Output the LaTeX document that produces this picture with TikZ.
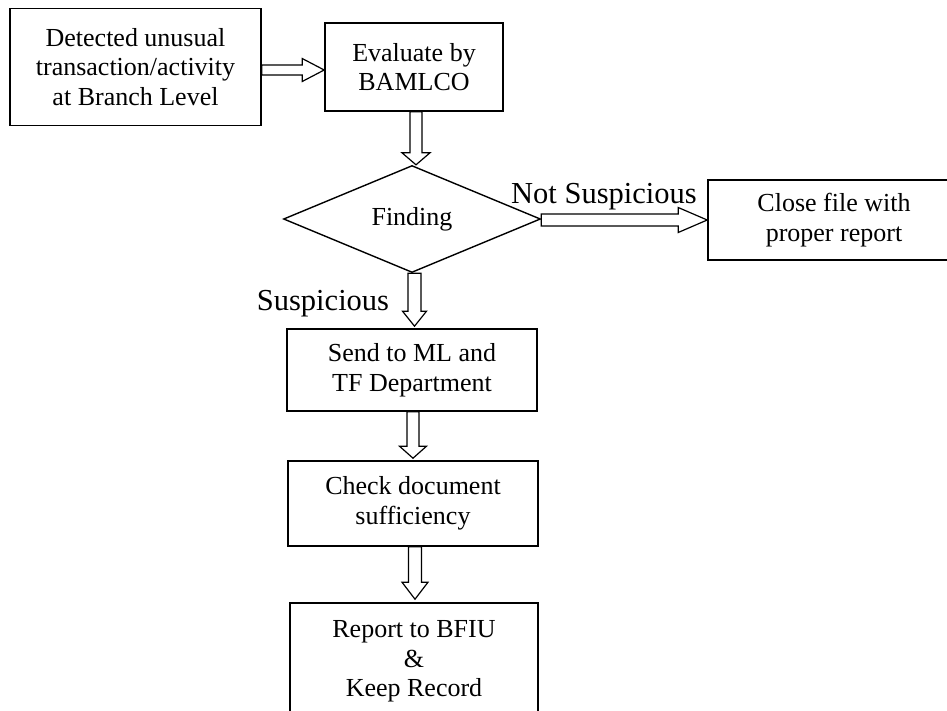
\documentclass[tikz,border=0pt]{standalone}
\usepackage{fontspec}
\setmainfont{Liberation Serif}
\usetikzlibrary{shapes.geometric,calc}

% Hollow block arrow pointing down: #1 start, #2 tip, #3 shaft half-width,
% #4 head half-width, #5 head length
\newcommand\vblockarrow[5]{%
  \draw[blockarrow] let \p1=(#1), \p2=(#2) in
    (\x1-#3,\y1) -- (\x1-#3,\y2+#5) -- (\x1-#4,\y2+#5) -- (\x1,\y2)
    -- (\x1+#4,\y2+#5) -- (\x1+#3,\y2+#5) -- (\x1+#3,\y1) -- cycle;}
% Hollow block arrow pointing right, same parameters
\newcommand\hblockarrow[5]{%
  \draw[blockarrow] let \p1=(#1), \p2=(#2) in
    (\x1,\y1+#3) -- (\x2-#5,\y1+#3) -- (\x2-#5,\y1+#4) -- (\x2,\y1)
    -- (\x2-#5,\y1-#4) -- (\x2-#5,\y1-#3) -- (\x1,\y1-#3) -- cycle;}

\begin{document}
\begin{tikzpicture}[x=1pt,y=-1pt,
  stepbox/.style={draw, line width=1.6pt, align=center, inner sep=0pt,
    font=\fontsize{26}{29.5}\selectfont},
  decision/.style={draw, diamond, aspect=2.4, line width=1.4pt, inner sep=0pt,
    minimum width=257pt, minimum height=107pt,
    font=\fontsize{26}{29.5}\selectfont},
  branchlabel/.style={anchor=base, inner sep=0pt,
    font=\fontsize{30.5}{34}\selectfont},
  blockarrow/.style={draw, line width=1.2pt, fill=white, line join=miter}]
\useasboundingbox (0,0) rectangle (947,710);
\clip (0,0) rectangle (947,710);

% process steps
\node[stepbox, minimum width=251pt, minimum height=117pt] (detect) at (135.5,67)
  {Detected unusual\\transaction/activity\\at Branch Level};
\node[stepbox, minimum width=178pt, minimum height=88pt] (evaluate) at (414,67)
  {Evaluate by\\BAMLCO};
\node[decision] (finding) at (412,219) {Finding};
\node[stepbox, minimum width=252pt, minimum height=80pt] (close) at (834,220)
  {Close file with\\proper report};
\node[stepbox, minimum width=250pt, minimum height=82pt] (send) at (412,370)
  {Send to ML and\\TF Department};
\node[stepbox, minimum width=250pt, minimum height=85pt] (check) at (413,503.5)
  {Check document\\sufficiency};
\node[stepbox, minimum width=248pt, minimum height=117pt] (report) at (414,661.5)
  {Report to BFIU\\\&\\Keep Record};

% branch labels
\node[branchlabel] (notsusp) at (604,203) {Not Suspicious};
\node[branchlabel] (susp) at (323,310) {Suspicious};

% connectors
\hblockarrow{$(detect.east)+(0,3)$}{evaluate.west}{5pt}{11.5pt}{22pt}
\vblockarrow{$(evaluate.south)+(2,0)$}{finding.north}{6pt}{14pt}{12pt}
\hblockarrow{$(finding.east)+(0,1)$}{close.west}{6pt}{12.5pt}{29pt}
\vblockarrow{$(finding.south)+(2.5,0)$}{$(send.north)+(0,-2)$}{6.5pt}{12pt}{15pt}
\vblockarrow{$(send.south)+(1,0)$}{$(check.north)+(0,-2)$}{6pt}{13.5pt}{12pt}
\vblockarrow{$(check.south)+(2,0)$}{$(report.north)+(0,-3)$}{6.5pt}{13pt}{17pt}
\end{tikzpicture}
\end{document}
